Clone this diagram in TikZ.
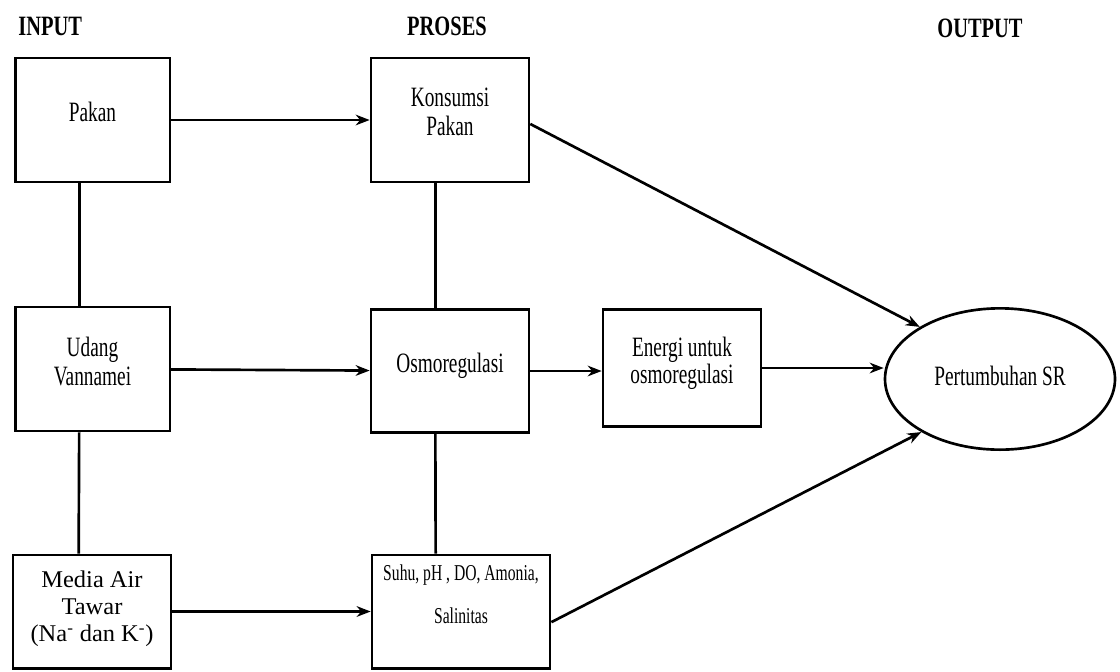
\documentclass[tikz,border=0pt]{standalone}
\usepackage{fontspec}
\setmainfont{Liberation Serif}[FakeStretch=0.69]
\newfontfamily\headfont{Liberation Serif}[FakeStretch=0.73]
\newfontfamily\widefont{Liberation Serif}[FakeStretch=1.02]
\usetikzlibrary{arrows.meta,positioning,calc,shapes.geometric}

\begin{document}
\begin{tikzpicture}[x=0.75pt,y=-0.75pt,box/.style={draw,line width=2pt,align=center,inner sep=3pt,text depth=12pt,font=\fontsize{21}{22}\selectfont},head/.style={inner sep=0pt,font=\headfont\bfseries\fontsize{21}{22}\selectfont},>={Stealth[length=10.5pt,width=8pt]},line width=2pt]
\useasboundingbox (0,0) rectangle (1120,671);
\node[head,anchor=west] (tin) at (17,26) {INPUT};
\node[head] (tpro) at (447,26) {PROSES};
\node[head] (tout) at (980,28) {OUTPUT};
% input column
\node[box,minimum width=116pt,minimum height=93pt] (pakan) at (92.5,120) {Pakan};
\node[box,minimum width=116pt,minimum height=93pt] (udang) at (92.5,369) {Udang\\Vannamei};
\node[box,minimum width=118.5pt,minimum height=85pt,text depth=8pt,font=\widefont\fontsize{18}{20.5}\selectfont] (media) at (92,611.5) {Media Air\\Tawar\\(Na\textsuperscript{-} dan K\textsuperscript{-})};
% proses column
\node[box,minimum width=118.5pt,minimum height=93pt] (kons) at (450,120) {Konsumsi\\Pakan};
\node[box,minimum width=118.5pt,minimum height=92pt] (osmo) at (450,371) {Osmoregulasi};
\node[box,minimum width=133.5pt,minimum height=85pt,text depth=26pt,font=\fontsize{17}{32}\selectfont] (suhu) at (461,611.5) {Suhu, pH , DO, Amonia,\\Salinitas};
\node[box,minimum width=118.5pt,minimum height=88pt,font=\fontsize{21}{17.5}\selectfont] (energi) at (682,368) {Energi untuk\\osmoregulasi};
% output
\node[box,ellipse,text depth=5pt,minimum width=172.5pt,minimum height=106pt] (ell) at (1000,379) {Pertumbuhan SR};
\draw[->] (pakan)--(kons);\draw[->] (udang)--(osmo);\draw[->] (media)--(suhu);
\draw[->] (osmo)--(osmo-|energi.west);\draw[->] (energi)--(energi-|ell.west);
\draw[->] ([yshift=-3pt]kons.east)--(ell.147);\draw[->] ([yshift=-8pt]suhu.east)--(ell.214);
\draw ([xshift=-10pt]pakan.south)--([xshift=-10pt]udang.north);\draw ([xshift=-10pt]udang.south)--([xshift=-10pt]media.north);
\draw ([xshift=-11pt]kons.south)--([xshift=-11pt]osmo.north);\draw ([xshift=-11pt]osmo.south)--([xshift=-19pt]suhu.north);
\end{tikzpicture}
\end{document}
